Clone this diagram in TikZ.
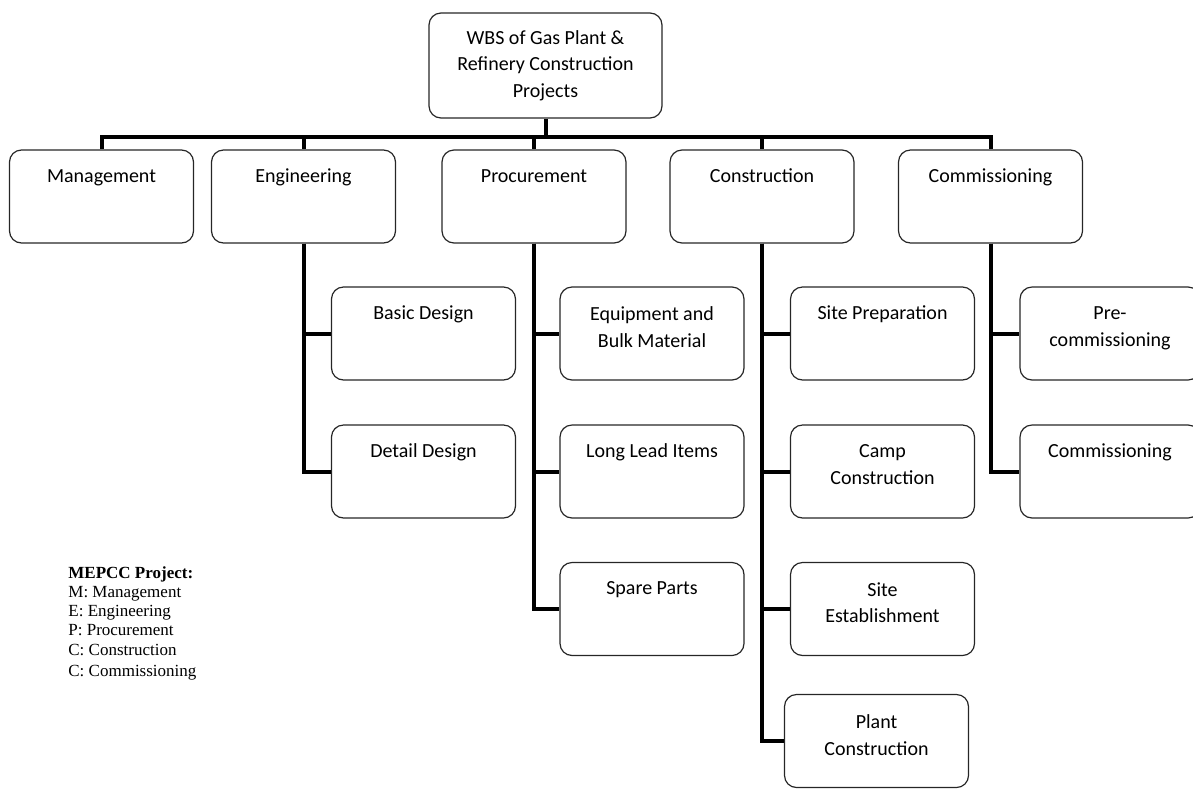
\documentclass[tikz,border=0pt]{standalone}
\usepackage{fontspec}
\setmainfont{Carlito}
\newfontfamily\legendfont{Liberation Serif}
\usepackage{tikz}

\begin{document}
\begin{tikzpicture}[x=0.5pt, y=-0.5pt,
  box/.style={draw=black!85, line width=0.6pt, rounded corners=6pt,
    minimum width=92pt, minimum height=46.5pt, inner sep=0pt},
  boxtext/.style={anchor=north, yshift=-6.9pt, inner sep=0pt, align=center,
    font=\fontsize{10}{13.3}\selectfont, execute at begin node=\strut},
  txt/.style={label={[boxtext]north:#1}},
  txttwo/.style={label={[boxtext, yshift=-3.2pt]north:#1}},
  link/.style={line width=2pt}]
  \useasboundingbox (0,0) rectangle (1193,788);

  % Root
  \node[box, minimum width=116.5pt, minimum height=52.5pt, align=center,
    font=\fontsize{10}{13.3}\selectfont] (root) at (545.5,65.5)
    {WBS of Gas Plant \&\\Refinery Construction\\Projects};

  % Main branches
  \node[box, txt=Management] (man) at (101.5,196.5) {};
  \node[box, txt=Engineering] (eng) at (303.5,196.5) {};
  \node[box, txt=Procurement] (pro) at (534,196.5) {};
  \node[box, txt=Construction] (con) at (762,196.5) {};
  \node[box, txt=Commissioning] (com) at (990.5,196.5) {};

  % Work packages
  \node[box, txt=Basic Design] (basic) at (423.5,333.5) {};
  \node[box, txt=Detail Design] (detail) at (423.5,471.5) {};
  \node[box, txttwo={Equipment and\\Bulk Material}] (equip) at (652,333.5) {};
  \node[box, txt=Long Lead Items] (lead) at (652,471.5) {};
  \node[box, txt=Spare Parts] (spare) at (652,609) {};
  \node[box, txt=Site Preparation] (prep) at (882.5,333.5) {};
  \node[box, txttwo={Camp\\Construction}] (camp) at (882.5,471.5) {};
  \node[box, txttwo={Site\\Establishment}] (estab) at (882.5,609) {};
  \node[box, txttwo={Plant\\Construction}] (plant) at (876.5,741) {};
  \node[box, minimum width=90pt, txttwo={Pre-\\commissioning}] (precom) at (1110,333.5) {};
  \node[box, minimum width=90pt, txt=Commissioning] (comm) at (1110,471.5) {};

  % Connectors (bus under the root)
  \coordinate (bus) at (545.5,137);
  \draw[link] (root.south) -- (root.south |- bus);
  \foreach \n in {man,eng,pro,con,com}
    \draw[link] (root.south |- bus) -| (\n.north);
  \foreach \p/\c in {eng/basic,eng/detail,pro/equip,pro/lead,pro/spare,
      con/prep,con/camp,con/estab,con/plant,com/precom,com/comm}
    \draw[link] (\p.south) |- (\c.west);

  % Legend
  \node[anchor=north west, inner sep=0pt, align=left,
    font=\legendfont\fontsize{8.5}{9.6}\selectfont] (legend) at (68,566)
    {\textbf{MEPCC Project:}\\M: Management\\E: Engineering\\P: Procurement\\C: Construction\\[1.2pt]C: Commissioning};
\end{tikzpicture}
\end{document}
